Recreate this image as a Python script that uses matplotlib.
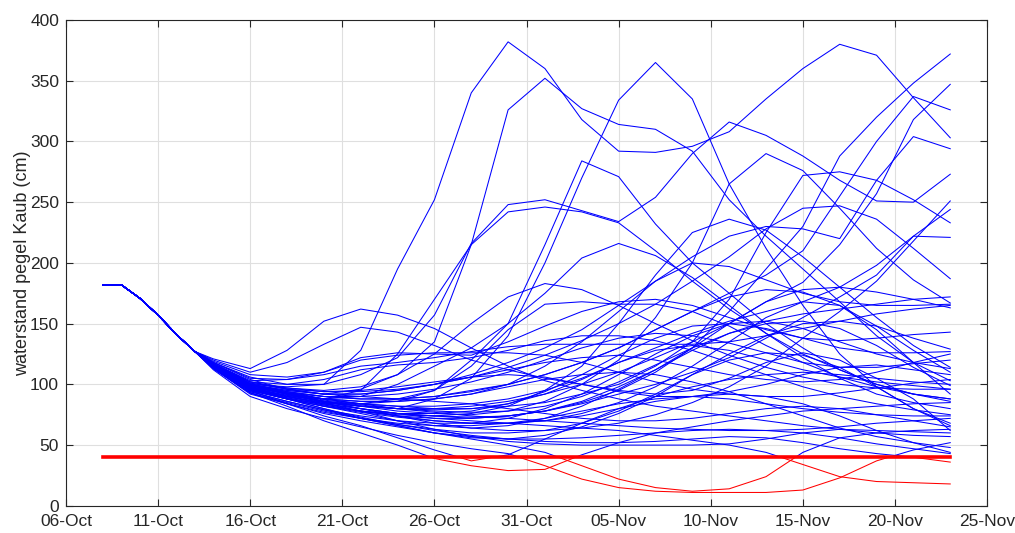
from datetime import date, timedelta

import matplotlib
matplotlib.use("Agg")
import matplotlib.pyplot as plt
import matplotlib.dates as mdates
from matplotlib.patches import Rectangle

# common start of all members, daily from 08-Oct to 13-Oct
prefix_start = date(2018, 10, 8)
prefix = [182, 182, 171, 157, 141, 127]

# ensemble members: 14-Oct, then every 2 days from 16-Oct to 23-Nov
member_start = date(2018, 10, 14)
A = [118, 106, 100, 100, 128, 195, 252, 340, 382, 360, 318, 292, 291, 296, 308, 335, 360, 380, 371, 336, 303]
C = [116, 100, 98, 100, 108, 122, 157, 216, 248, 252, 243, 234, 254, 290, 316, 305, 288, 268, 251, 250, 273]
D = [118, 104, 96, 92, 96, 108, 135, 215, 326, 352, 327, 314, 310, 292, 252, 222, 195, 168, 140, 118, 103]
E = [116, 100, 92, 86, 82, 80, 88, 105, 140, 200, 270, 334, 365, 335, 265, 212, 165, 125, 98, 80, 68]
F = [115, 98, 92, 88, 90, 100, 115, 130, 150, 215, 284, 271, 232, 200, 175, 150, 130, 112, 100, 92, 88]
H = [115, 97, 90, 88, 95, 125, 170, 215, 242, 246, 242, 233, 210, 185, 162, 142, 125, 112, 100, 92, 86]
I = [114, 95, 88, 84, 84, 88, 95, 120, 150, 175, 204, 216, 206, 188, 165, 142, 122, 105, 92, 85, 80]
J = [121, 113, 128, 152, 162, 157, 146, 130, 115, 103, 95, 88, 82, 78, 74, 70, 66, 63, 60, 58, 57]
K = [120, 110, 118, 133, 147, 143, 132, 120, 112, 105, 100, 95, 92, 95, 105, 118, 126, 120, 105, 88, 62]
L1 = [115, 98, 90, 84, 80, 76, 74, 72, 74, 78, 85, 95, 110, 130, 160, 195, 230, 288, 320, 348, 372]
L2 = [114, 96, 90, 85, 82, 80, 80, 82, 86, 92, 100, 110, 122, 135, 150, 168, 184, 215, 257, 318, 347]
L3 = [116, 100, 94, 90, 88, 88, 90, 95, 100, 108, 118, 130, 145, 160, 175, 190, 210, 255, 300, 337, 326]
L4 = [117, 102, 96, 92, 92, 95, 100, 108, 118, 130, 145, 165, 185, 205, 222, 230, 228, 220, 268, 304, 294]
L5 = [116, 100, 94, 88, 84, 82, 80, 80, 82, 85, 92, 100, 115, 135, 170, 225, 272, 275, 268, 252, 233]
N1 = [116, 99, 92, 86, 80, 74, 68, 64, 62, 62, 64, 68, 75, 85, 98, 115, 138, 160, 185, 218, 251]
N2 = [116, 100, 93, 87, 84, 82, 82, 84, 88, 95, 105, 118, 130, 142, 152, 160, 168, 180, 198, 222, 244]
N3 = [115, 97, 90, 84, 78, 74, 72, 72, 74, 78, 84, 92, 100, 110, 122, 138, 155, 172, 190, 222, 221]
N4 = [117, 102, 97, 94, 94, 96, 100, 106, 114, 124, 136, 150, 166, 185, 205, 228, 245, 247, 236, 212, 187]
P1 = [115, 98, 92, 86, 82, 78, 76, 75, 78, 86, 100, 120, 155, 200, 265, 290, 276, 245, 212, 186, 167]
P2 = [114, 96, 89, 83, 78, 75, 74, 76, 82, 95, 115, 150, 190, 225, 236, 227, 205, 180, 155, 132, 114]
N6 = [116, 99, 93, 88, 86, 86, 88, 92, 100, 115, 135, 160, 185, 200, 197, 186, 175, 168, 165, 165, 166]
M2 = [117, 103, 104, 108, 115, 118, 122, 127, 131, 133, 133, 133, 133, 133, 135, 140, 146, 152, 158, 162, 165]
N7 = [114, 95, 88, 82, 76, 70, 66, 64, 66, 72, 82, 96, 112, 130, 150, 168, 178, 180, 176, 170, 163]
N8 = [118, 105, 104, 110, 122, 126, 125, 124, 135, 148, 160, 168, 170, 165, 155, 145, 138, 136, 138, 141, 143]
N9 = [114, 94, 86, 79, 72, 66, 60, 56, 55, 58, 65, 76, 90, 108, 125, 140, 150, 152, 148, 138, 129]
N10 = [116, 100, 95, 92, 92, 95, 100, 106, 112, 118, 122, 124, 120, 114, 108, 104, 102, 104, 110, 118, 125]
N12 = [119, 108, 106, 110, 120, 124, 126, 126, 126, 124, 118, 110, 102, 96, 92, 90, 90, 93, 97, 101, 104]
N13 = [115, 97, 91, 86, 83, 80, 78, 77, 78, 82, 90, 102, 116, 130, 142, 150, 152, 146, 132, 114, 99]
N14 = [117, 102, 100, 104, 112, 116, 118, 122, 128, 136, 140, 140, 136, 128, 118, 108, 98, 90, 84, 79, 75]
N15 = [113, 93, 85, 78, 72, 67, 63, 60, 60, 62, 68, 78, 92, 108, 120, 126, 124, 114, 98, 80, 66]
N16 = [115, 98, 92, 88, 86, 86, 88, 92, 98, 104, 108, 110, 108, 102, 94, 84, 74, 64, 57, 52, 48]
N17 = [114, 95, 88, 82, 77, 73, 70, 68, 68, 70, 74, 80, 86, 90, 92, 90, 84, 74, 62, 52, 44]
N18 = [113, 92, 84, 76, 70, 65, 60, 57, 55, 55, 56, 58, 60, 62, 63, 62, 60, 56, 51, 47, 43]
N19 = [116, 100, 94, 90, 88, 88, 90, 94, 100, 108, 118, 130, 145, 160, 172, 178, 176, 165, 148, 128, 110]
N20 = [114, 96, 89, 83, 78, 74, 70, 68, 68, 70, 76, 85, 98, 115, 135, 155, 168, 165, 145, 118, 92]
N21 = [116, 99, 93, 88, 84, 80, 77, 74, 72, 70, 68, 66, 64, 63, 62, 62, 63, 65, 68, 70, 72]
Q1 = [116, 101, 97, 95, 98, 108, 125, 150, 172, 183, 178, 165, 150, 136, 124, 114, 106, 100, 97, 96, 96]
Q2 = [115, 97, 91, 86, 84, 86, 95, 115, 145, 166, 168, 166, 166, 160, 148, 132, 118, 106, 98, 92, 88]
B1 = [115, 97, 90, 85, 82, 80, 79, 80, 84, 92, 104, 118, 128, 132, 128, 120, 112, 106, 102, 99, 96]
B2 = [117, 101, 96, 94, 95, 98, 102, 106, 108, 106, 100, 94, 90, 90, 94, 100, 108, 114, 116, 112, 108]
B3 = [114, 94, 86, 79, 74, 70, 68, 68, 72, 80, 92, 108, 125, 140, 150, 152, 146, 135, 125, 118, 113]
B4 = [116, 99, 93, 90, 90, 92, 96, 102, 110, 120, 130, 138, 142, 140, 134, 126, 118, 114, 114, 117, 120]
B5 = [115, 97, 90, 84, 80, 76, 74, 73, 74, 78, 86, 98, 112, 128, 142, 152, 158, 162, 166, 170, 172]
B6 = [113, 93, 84, 77, 72, 68, 66, 66, 68, 72, 78, 84, 88, 90, 88, 84, 80, 77, 75, 74, 74]
B7 = [116, 100, 95, 92, 90, 88, 86, 84, 80, 76, 72, 70, 70, 72, 76, 80, 82, 80, 75, 70, 65]
B8 = [115, 96, 88, 82, 78, 76, 76, 78, 84, 94, 108, 124, 138, 148, 150, 146, 138, 130, 126, 126, 127]
M1 = [116, 100, 92, 85, 78, 70, 63, 57, 53, 51, 50, 50, 50, 50, 51, 55, 60, 63, 62, 61, 60]
R1 = [113, 93, 82, 70, 60, 50, 39, 33, 29, 30, 42, 52, 60, 65, 70, 74, 78, 80, 82, 84, 85]
R2 = [114, 95, 84, 74, 66, 56, 46, 37, 42, 55, 68, 80, 90, 98, 104, 108, 110, 108, 105, 102, 100]
R3 = [112, 90, 80, 72, 65, 58, 52, 47, 43, 33, 22, 15, 12, 11, 11, 11, 13, 23, 37, 46, 52]
R4 = [115, 98, 88, 80, 72, 66, 60, 55, 50, 44, 33, 22, 15, 12, 14, 24, 44, 56, 60, 62, 63]
R5 = [116, 100, 92, 86, 80, 76, 72, 70, 68, 66, 64, 62, 58, 54, 50, 44, 34, 24, 20, 19, 18]
R6 = [114, 96, 88, 80, 73, 67, 62, 58, 55, 53, 52, 52, 53, 55, 57, 56, 52, 47, 43, 40, 36]

members = [A, C, D, E, F, H, I, J, K, L1, L2, L3, L4, L5, N1, N2, N3, N4, P1, P2,
           N6, M2, N7, N8, N9, N10, N12, N13, N14, N15, N16, N17, N18, N19, N20,
           N21, Q1, Q2, B1, B2, B3, B4, B5, B6, B7, B8, M1, R1, R2, R3, R4, R5, R6]

threshold = 40  # cm
xtick_dates = [date(2018, 10, 6) + timedelta(days=5 * i) for i in range(11)]

prefix_days = [prefix_start + timedelta(days=i) for i in range(len(prefix))]
member_days = [member_start] + [member_start + timedelta(days=2 * i) for i in range(1, len(A))]
x = mdates.date2num(prefix_days + member_days)

plt.rcParams['font.family'] = ['Liberation Sans', 'DejaVu Sans']
fig = plt.figure(figsize=(10.15, 5.33), dpi=100)
ax = fig.add_axes([0.065, 0.051, 0.9075, 0.9115])

x0, x1 = x[0], x[-1]
for vals in members:
    y = prefix + vals
    blue, = ax.plot(x, y, color='#0000ff', lw=0.75, zorder=2)
    red, = ax.plot(x, y, color='#ff0000', lw=0.75, zorder=2)
    # blue above the threshold, red below it
    blue.set_clip_path(Rectangle((x0 - 1, threshold), x1 - x0 + 2, 1000,
                                 transform=ax.transData))
    red.set_clip_path(Rectangle((x0 - 1, -1000), x1 - x0 + 2, 1000 + threshold,
                                transform=ax.transData))

ax.plot([x0, x1], [threshold, threshold], color='#ff0000', lw=2.6, zorder=3)

ax.set_xlim(mdates.date2num(xtick_dates[0]), mdates.date2num(xtick_dates[-1]))
ax.set_ylim(0, 400)
ax.set_xticks(mdates.date2num(xtick_dates))
ax.xaxis.set_major_formatter(mdates.DateFormatter('%d-%b'))
ax.set_yticks(range(0, 401, 50))
ax.grid(True, color='#dfdfdf', lw=0.8)
ax.set_axisbelow(True)
ax.tick_params(direction='in', length=5, width=0.8, top=True, right=True,
               labelsize=12.5, colors='#262626')
ax.tick_params(axis='x', pad=6)
ax.tick_params(axis='y', pad=5)
for s in ax.spines.values():
    s.set_color('#262626')
    s.set_linewidth(0.8)
ax.set_ylabel('waterstand pegel Kaub (cm)', fontsize=13, color='#262626', labelpad=-1)

fig.savefig('out.png', dpi=100)
